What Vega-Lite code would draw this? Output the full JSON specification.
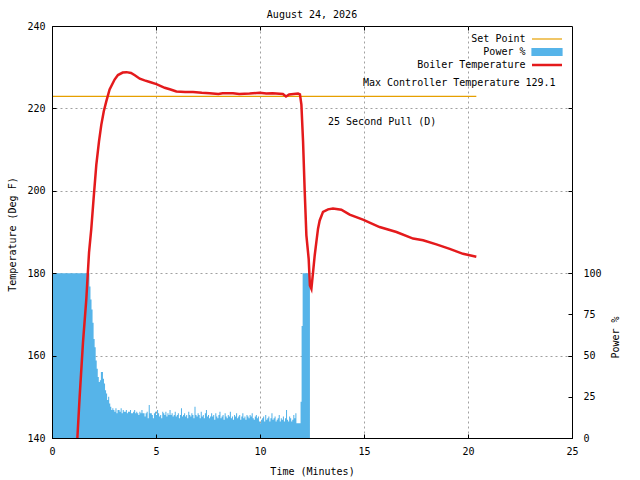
{
  "$schema": "https://vega.github.io/schema/vega-lite/v6.json",
  "autosize": {"type": "none"},
  "width": 520,
  "height": 412,
  "padding": {"left": 52, "top": 26, "right": 68, "bottom": 42},
  "background": "white",
  "title": {"text": "August 24, 2026", "font": "DejaVu Sans Mono", "fontSize": 10, "fontWeight": "normal", "color": "black", "offset": 1, "anchor": "middle"},
  "config": {
    "view": {"stroke": "black", "strokeWidth": 1},
    "axis": {
      "labelFont": "DejaVu Sans Mono", "labelFontSize": 10, "labelColor": "black",
      "titleFont": "DejaVu Sans Mono", "titleFontSize": 10, "titleFontWeight": "normal", "titleColor": "black",
      "tickColor": "black", "domainColor": "black", "gridColor": "#a0a0a0", "gridDash": [2, 3], "gridWidth": 1,
      "labelFlush": false, "labelOverlap": false
    },
    "text": {"font": "DejaVu Sans Mono", "fontSize": 10}
  },
  "resolve": {"scale": {"x": "independent", "y": "independent"}},
  "layer": [
    {
      "data": {"values": [
        {"t":0,"p":100},{"t":1.75,"p":100},{"t":1.8,"p":92},{"t":1.85,"p":84},{"t":1.9,"p":78},{"t":1.95,"p":70},{"t":2.0,"p":60},{"t":2.05,"p":55},{"t":2.1,"p":47},{"t":2.15,"p":42},{"t":2.2,"p":37},{"t":2.25,"p":34},{"t":2.3,"p":35},{"t":2.35,"p":40},{"t":2.4,"p":40},{"t":2.45,"p":36},{"t":2.5,"p":33},{"t":2.55,"p":29},{"t":2.6,"p":27},{"t":2.65,"p":23},{"t":2.7,"p":25},{"t":2.75,"p":21},{"t":2.8,"p":19},{"t":2.85,"p":17},{"t":2.9,"p":18},{"t":2.95,"p":17},
        {"t":3.0,"p":16},{"t":3.05,"p":18},{"t":3.1,"p":15},{"t":3.15,"p":17},{"t":3.2,"p":17},{"t":3.25,"p":16},{"t":3.3,"p":18},{"t":3.35,"p":15},{"t":3.4,"p":17},{"t":3.45,"p":16},{"t":3.5,"p":16},{"t":3.55,"p":17},{"t":3.6,"p":15},{"t":3.65,"p":16},{"t":3.7,"p":16},{"t":3.75,"p":17},{"t":3.8,"p":15},{"t":3.85,"p":15},{"t":3.9,"p":16},{"t":3.95,"p":17},
        {"t":4.0,"p":15},{"t":4.05,"p":16},{"t":4.1,"p":15},{"t":4.15,"p":14},{"t":4.2,"p":16},{"t":4.25,"p":15},{"t":4.3,"p":17},{"t":4.35,"p":15},{"t":4.4,"p":15},{"t":4.45,"p":13},{"t":4.5,"p":15},{"t":4.55,"p":16},{"t":4.6,"p":12},{"t":4.65,"p":20},{"t":4.7,"p":15},{"t":4.75,"p":15},{"t":4.8,"p":14},{"t":4.85,"p":12},{"t":4.9,"p":15},{"t":4.95,"p":16},
        {"t":5.0,"p":14},{"t":5.05,"p":17},{"t":5.1,"p":15},{"t":5.15,"p":13},{"t":5.2,"p":14},{"t":5.25,"p":12},{"t":5.3,"p":16},{"t":5.35,"p":15},{"t":5.4,"p":14},{"t":5.45,"p":16},{"t":5.5,"p":13},{"t":5.55,"p":15},{"t":5.6,"p":14},{"t":5.65,"p":17},{"t":5.7,"p":14},{"t":5.75,"p":15},{"t":5.8,"p":13},{"t":5.85,"p":14},{"t":5.9,"p":16},{"t":5.95,"p":13},
        {"t":6.0,"p":14},{"t":6.05,"p":15},{"t":6.1,"p":12},{"t":6.15,"p":14},{"t":6.2,"p":18},{"t":6.25,"p":13},{"t":6.3,"p":14},{"t":6.35,"p":15},{"t":6.4,"p":13},{"t":6.45,"p":14},{"t":6.5,"p":12},{"t":6.55,"p":16},{"t":6.6,"p":14},{"t":6.65,"p":13},{"t":6.7,"p":15},{"t":6.75,"p":14},{"t":6.8,"p":12},{"t":6.85,"p":19},{"t":6.9,"p":14},{"t":6.95,"p":13},
        {"t":7.0,"p":15},{"t":7.05,"p":14},{"t":7.1,"p":12},{"t":7.15,"p":16},{"t":7.2,"p":13},{"t":7.25,"p":14},{"t":7.3,"p":12},{"t":7.35,"p":15},{"t":7.4,"p":17},{"t":7.45,"p":13},{"t":7.5,"p":14},{"t":7.55,"p":12},{"t":7.6,"p":13},{"t":7.65,"p":15},{"t":7.7,"p":13},{"t":7.75,"p":14},{"t":7.8,"p":11},{"t":7.85,"p":15},{"t":7.9,"p":13},{"t":7.95,"p":12},
        {"t":8.0,"p":14},{"t":8.05,"p":16},{"t":8.1,"p":12},{"t":8.15,"p":13},{"t":8.2,"p":14},{"t":8.25,"p":11},{"t":8.3,"p":15},{"t":8.35,"p":13},{"t":8.4,"p":12},{"t":8.45,"p":14},{"t":8.5,"p":13},{"t":8.55,"p":16},{"t":8.6,"p":12},{"t":8.65,"p":13},{"t":8.7,"p":11},{"t":8.75,"p":14},{"t":8.8,"p":13},{"t":8.85,"p":15},{"t":8.9,"p":12},{"t":8.95,"p":13},
        {"t":9.0,"p":14},{"t":9.05,"p":11},{"t":9.1,"p":13},{"t":9.15,"p":15},{"t":9.2,"p":12},{"t":9.25,"p":13},{"t":9.3,"p":11},{"t":9.35,"p":14},{"t":9.4,"p":13},{"t":9.45,"p":12},{"t":9.5,"p":14},{"t":9.55,"p":13},{"t":9.6,"p":15},{"t":9.65,"p":12},{"t":9.7,"p":11},{"t":9.75,"p":13},{"t":9.8,"p":14},{"t":9.85,"p":12},{"t":9.9,"p":13},{"t":9.95,"p":10},
        {"t":10.0,"p":9},{"t":10.05,"p":11},{"t":10.1,"p":12},{"t":10.15,"p":13},{"t":10.2,"p":10},{"t":10.25,"p":14},{"t":10.3,"p":11},{"t":10.35,"p":12},{"t":10.4,"p":13},{"t":10.45,"p":10},{"t":10.5,"p":12},{"t":10.55,"p":15},{"t":10.6,"p":11},{"t":10.65,"p":12},{"t":10.7,"p":13},{"t":10.75,"p":10},{"t":10.8,"p":11},{"t":10.85,"p":12},{"t":10.9,"p":14},{"t":10.95,"p":10},
        {"t":11.0,"p":12},{"t":11.05,"p":11},{"t":11.1,"p":13},{"t":11.15,"p":10},{"t":11.2,"p":12},{"t":11.25,"p":17},{"t":11.3,"p":11},{"t":11.35,"p":10},{"t":11.4,"p":13},{"t":11.45,"p":12},{"t":11.5,"p":10},{"t":11.55,"p":11},{"t":11.6,"p":14},{"t":11.65,"p":12},{"t":11.7,"p":15},{"t":11.75,"p":9},{"t":11.8,"p":9},{"t":11.85,"p":9},{"t":11.9,"p":9},{"t":11.95,"p":22},
        {"t":12.0,"p":68},{"t":12.05,"p":100},{"t":12.35,"p":100},{"t":12.4,"p":0}
      ]},
      "mark": {"type": "area", "interpolate": "step-after", "opacity": 1},
      "encoding": {
        "x": {"field": "t", "type": "quantitative", "scale": {"domain": [0, 25], "nice": false, "zero": false},
              "axis": {"orient": "top", "grid": true, "labels": false, "ticks": true, "tickSize": -4, "domain": false, "title": null, "values": [5, 10, 15, 20], "zindex": 0}},
        "y": {"field": "p", "type": "quantitative", "scale": {"domain": [0, 250], "nice": false},
              "axis": {"orient": "right", "values": [0, 25, 50, 75, 100], "tickSize": -4, "labelPadding": 15, "labelAlign": "left", "labelBaseline": "middle", "grid": false, "domain": false, "title": "Power %", "titleAngle": 270, "titleAlign": "center", "titleBaseline": "middle", "titleX": 43, "titleY": 311, "zindex": 0}},
        "color": {"datum": "Power %", "type": "nominal",
                  "scale": {"domain": ["Set Point", "Power %", "Boiler Temperature"], "range": ["#e69f00", "#56b4e9", "#e41a1c"]},
                  "legend": {"title": null, "orient": "none", "legendX": 490, "legendY": 8, "direction": "vertical", "padding": 0, "rowPadding": 2, "symbolSize": 100, "labelAlign": "right", "labelBaseline": "middle", "labelOffset": -26.5, "labelFont": "DejaVu Sans Mono", "labelFontSize": 10, "labelColor": "black", "labelLimit": 0,
                             "encode": {"symbols": {"update": {
                               "shape": {"signal": "datum.value === 'Power %' ? 'M-3,-0.7H3V0.7H-3Z' : 'M-3,0H3'"},
                               "fill": {"signal": "datum.value === 'Power %' ? '#56b4e9' : 'transparent'"},
                               "stroke": {"signal": "datum.value === 'Set Point' ? '#e69f00' : (datum.value === 'Boiler Temperature' ? '#e41a1c' : 'transparent')"},
                               "strokeWidth": {"signal": "datum.value === 'Boiler Temperature' ? 2.5 : 1.2"},
                               "size": {"value": 100},
                               "opacity": {"value": 1}, "fillOpacity": {"value": 1}, "strokeOpacity": {"value": 1}
                             }}}}}
      }
    },
    {
      "data": {"values": [{"t": 0, "sp": 222.9}, {"t": 20.4, "sp": 222.9}]},
      "mark": {"type": "line", "strokeWidth": 1.2},
      "encoding": {
        "x": {"field": "t", "type": "quantitative", "scale": {"domain": [0, 25], "nice": false, "zero": false}, "axis": null},
        "y": {"field": "sp", "type": "quantitative", "scale": {"domain": [140, 240], "nice": false, "zero": false},
              "axis": {"orient": "right", "grid": true, "labels": false, "ticks": true, "tickSize": -4, "domain": false, "title": null, "values": [160, 180, 200, 220], "zindex": 0}},
        "color": {"datum": "Set Point", "type": "nominal",
                  "scale": {"domain": ["Set Point", "Power %", "Boiler Temperature"], "range": ["#e69f00", "#56b4e9", "#e41a1c"]},
                  "legend": {"title": null, "orient": "none", "legendX": 490, "legendY": 8, "direction": "vertical", "padding": 0, "rowPadding": 2, "symbolSize": 100, "labelAlign": "right", "labelBaseline": "middle", "labelOffset": -26.5, "labelFont": "DejaVu Sans Mono", "labelFontSize": 10, "labelColor": "black", "labelLimit": 0,
                             "encode": {"symbols": {"update": {
                               "shape": {"signal": "datum.value === 'Power %' ? 'M-3,-0.7H3V0.7H-3Z' : 'M-3,0H3'"},
                               "fill": {"signal": "datum.value === 'Power %' ? '#56b4e9' : 'transparent'"},
                               "stroke": {"signal": "datum.value === 'Set Point' ? '#e69f00' : (datum.value === 'Boiler Temperature' ? '#e41a1c' : 'transparent')"},
                               "strokeWidth": {"signal": "datum.value === 'Boiler Temperature' ? 2.5 : 1.2"},
                               "size": {"value": 100},
                               "opacity": {"value": 1}, "fillOpacity": {"value": 1}, "strokeOpacity": {"value": 1}
                             }}}}}
      }
    },
    {
      "data": {"values": [
        {"t":1.22,"temp":140},{"t":1.33,"temp":150.1},{"t":1.49,"temp":163.2},{"t":1.65,"temp":173.7},{"t":1.78,"temp":185},{"t":1.89,"temp":190.8},{"t":2.0,"temp":198.1},{"t":2.13,"temp":206.3},{"t":2.26,"temp":212},{"t":2.37,"temp":216},{"t":2.49,"temp":219.3},{"t":2.61,"temp":221.7},{"t":2.77,"temp":224.6},{"t":3.01,"temp":227},{"t":3.17,"temp":228.1},{"t":3.4,"temp":228.7},{"t":3.58,"temp":228.8},{"t":3.8,"temp":228.6},{"t":4.0,"temp":228.0},{"t":4.22,"temp":227.2},{"t":4.45,"temp":226.8},{"t":4.7,"temp":226.4},{"t":5.02,"temp":225.9},{"t":5.42,"temp":225.0},{"t":5.7,"temp":224.6},{"t":5.98,"temp":224.1},{"t":6.4,"temp":224.0},{"t":6.78,"temp":224.0},{"t":7.2,"temp":223.8},{"t":7.58,"temp":223.7},{"t":8.0,"temp":223.5},{"t":8.2,"temp":223.7},{"t":8.7,"temp":223.7},{"t":9.0,"temp":223.5},{"t":9.5,"temp":223.6},{"t":9.99,"temp":223.8},{"t":10.3,"temp":223.6},{"t":10.6,"temp":223.7},{"t":11.1,"temp":223.5},{"t":11.25,"temp":222.9},{"t":11.4,"temp":223.4},{"t":11.83,"temp":223.6},{"t":11.92,"temp":223.4},{"t":11.99,"temp":220.9},{"t":12.07,"temp":212},{"t":12.15,"temp":199.8},{"t":12.23,"temp":189.2},{"t":12.34,"temp":183.5},{"t":12.4,"temp":177},{"t":12.47,"temp":176.2},{"t":12.55,"temp":180.2},{"t":12.63,"temp":184.3},{"t":12.71,"temp":187.6},{"t":12.79,"temp":190.8},{"t":12.87,"temp":192.8},{"t":13.03,"temp":194.9},{"t":13.27,"temp":195.5},{"t":13.51,"temp":195.7},{"t":13.91,"temp":195.4},{"t":14.31,"temp":194.2},{"t":14.95,"temp":193.0},{"t":15.75,"temp":191.2},{"t":16.56,"temp":190.0},{"t":17.36,"temp":188.4},{"t":17.84,"temp":188.0},{"t":18.48,"temp":187.0},{"t":19.12,"temp":185.9},{"t":19.76,"temp":184.7},{"t":20.4,"temp":184.0}
      ]},
      "mark": {"type": "line", "strokeWidth": 2.5, "clip": true},
      "encoding": {
        "x": {"field": "t", "type": "quantitative", "scale": {"domain": [0, 25], "nice": false, "zero": false},
              "axis": {"orient": "bottom", "grid": false, "values": [0, 5, 10, 15, 20, 25], "tickSize": -4, "labelPadding": 12, "domain": true, "title": "Time (Minutes)", "titlePadding": 10, "zindex": 1}},
        "y": {"field": "temp", "type": "quantitative", "scale": {"domain": [140, 240], "nice": false, "zero": false},
              "axis": {"orient": "left", "grid": false, "values": [140, 160, 180, 200, 220, 240], "tickSize": -4, "labelPadding": 11, "domain": true, "title": "Temperature (Deg F)", "titleAngle": 270, "titleAlign": "center", "titleBaseline": "middle", "titleX": -40, "titleY": 208, "zindex": 1}},
        "color": {"datum": "Boiler Temperature", "type": "nominal",
                  "scale": {"domain": ["Set Point", "Power %", "Boiler Temperature"], "range": ["#e69f00", "#56b4e9", "#e41a1c"]},
                  "legend": {"title": null, "orient": "none", "legendX": 490, "legendY": 8, "direction": "vertical", "padding": 0, "rowPadding": 2, "symbolSize": 100, "labelAlign": "right", "labelBaseline": "middle", "labelOffset": -26.5, "labelFont": "DejaVu Sans Mono", "labelFontSize": 10, "labelColor": "black", "labelLimit": 0,
                             "encode": {"symbols": {"update": {
                               "shape": {"signal": "datum.value === 'Power %' ? 'M-3,-0.7H3V0.7H-3Z' : 'M-3,0H3'"},
                               "fill": {"signal": "datum.value === 'Power %' ? '#56b4e9' : 'transparent'"},
                               "stroke": {"signal": "datum.value === 'Set Point' ? '#e69f00' : (datum.value === 'Boiler Temperature' ? '#e41a1c' : 'transparent')"},
                               "strokeWidth": {"signal": "datum.value === 'Boiler Temperature' ? 2.5 : 1.2"},
                               "size": {"value": 100},
                               "opacity": {"value": 1}, "fillOpacity": {"value": 1}, "strokeOpacity": {"value": 1}
                             }}}}}
      }
    },
    {
      "data": {"values": [
        {"t": 14.95, "temp": 226.2, "label": "Max Controller Temperature 129.1"},
        {"t": 13.27, "temp": 216.8, "label": "25 Second Pull (D)"}
      ]},
      "mark": {"type": "text", "align": "left", "baseline": "middle", "color": "black", "font": "DejaVu Sans Mono", "fontSize": 10},
      "encoding": {
        "x": {"field": "t", "type": "quantitative", "scale": {"domain": [0, 25], "nice": false, "zero": false}, "axis": null},
        "y": {"field": "temp", "type": "quantitative", "scale": {"domain": [140, 240], "nice": false, "zero": false}, "axis": null},
        "text": {"field": "label", "type": "nominal"}
      }
    }
  ]
}
